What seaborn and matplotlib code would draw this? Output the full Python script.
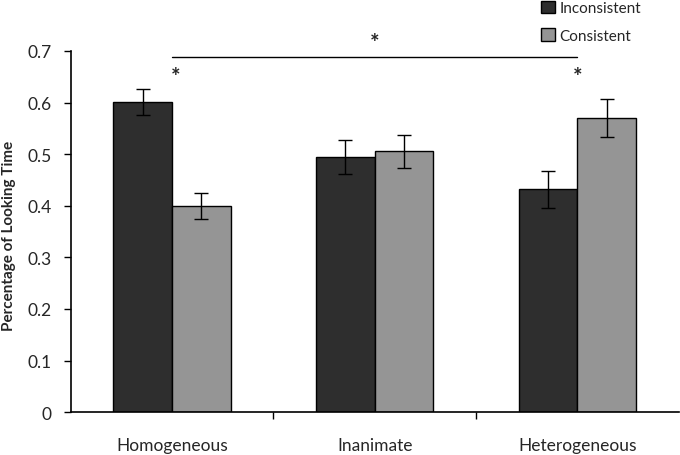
import matplotlib
matplotlib.use("Agg")
import matplotlib.pyplot as plt
from matplotlib.patches import Patch
import seaborn as sns
import pandas as pd
import numpy as np

# data
conditions = ["Homogeneous", "Inanimate", "Heterogeneous"]
trial_types = ["Inconsistent", "Consistent"]
inconsistent = [0.601, 0.494, 0.432]
consistent = [0.399, 0.506, 0.570]
inconsistent_err = [0.025, 0.033, 0.036]
consistent_err = [0.025, 0.032, 0.036]
ytick_labels = ["0", "0.1", "0.2", "0.3", "0.4", "0.5", "0.6", "0.7"]

df = pd.DataFrame({
    "Condition": conditions * 2,
    "Trial": ["Inconsistent"] * 3 + ["Consistent"] * 3,
    "Percentage": inconsistent + consistent,
    "Error": inconsistent_err + consistent_err,
})

sns.set_style("white")
plt.rcParams["font.family"] = ["Lato", "DejaVu Sans"]

fig = plt.figure(figsize=(6.8, 4.56), dpi=100)
ax = fig.add_axes([0.104, 0.094, 0.894, 0.792])

palette = {"Inconsistent": "#2e2e2e", "Consistent": "#959595"}
sns.barplot(data=df, x="Condition", y="Percentage", hue="Trial",
            order=conditions, hue_order=trial_types, palette=palette,
            width=0.58, edgecolor="black", linewidth=1.0, saturation=1,
            errorbar=None, ax=ax, legend=False)

# error bars at the bar centres
for container, trial in zip(ax.containers, trial_types):
    sub = df[df["Trial"] == trial].set_index("Condition").loc[conditions]
    xs = [b.get_x() + b.get_width() / 2 for b in container]
    ax.errorbar(xs, sub["Percentage"], yerr=sub["Error"], fmt="none",
                ecolor="black", elinewidth=1.0, capsize=5, capthick=1.0)

ax.set_xlim(-0.5, 2.5)
ax.set_ylim(0, 0.7)
ax.set_yticks(np.arange(0, 0.71, 0.1))
ax.set_yticklabels(ytick_labels)
ax.tick_params(axis="y", direction="out", length=5, width=1, labelsize=12.5,
               pad=9, left=True, color="black")
ax.set_xticks([0, 1, 2])
ax.set_xticklabels(conditions)
ax.tick_params(axis="x", which="major", length=0, pad=18, labelsize=12.5)
ax.set_xticks([0.5, 1.5], minor=True)
ax.tick_params(axis="x", which="minor", direction="out", length=5, width=1,
               bottom=True, color="black")
ax.set_xlabel("")
ax.set_ylabel("Percentage of Looking Time", fontsize=11, fontweight="bold")
ax.yaxis.set_label_coords(-0.09, 0.49)

sns.despine(ax=ax)
for side in ["left", "bottom"]:
    ax.spines[side].set_color("black")
    ax.spines[side].set_linewidth(1.2)

# significance markers
ax.plot([0, 2], [0.689, 0.689], color="black", linewidth=1.0, clip_on=False)
ax.text(1, 0.716, "*", ha="center", va="center", fontsize=16,
        fontweight="bold", clip_on=False)
ax.text(0.02, 0.650, "*", ha="center", va="center", fontsize=16,
        fontweight="bold")
ax.text(2.0, 0.650, "*", ha="center", va="center", fontsize=16,
        fontweight="bold")

# legend
handles = [Patch(facecolor=palette[t], edgecolor="black", label=t)
           for t in trial_types]
fig.legend(handles=handles, loc="upper left", bbox_to_anchor=(0.787, 1.01),
           frameon=False, fontsize=11, handlelength=0.9, handleheight=0.9,
           handletextpad=0.3, labelspacing=0.85, borderaxespad=0)

fig.savefig("out.png", dpi=100)
